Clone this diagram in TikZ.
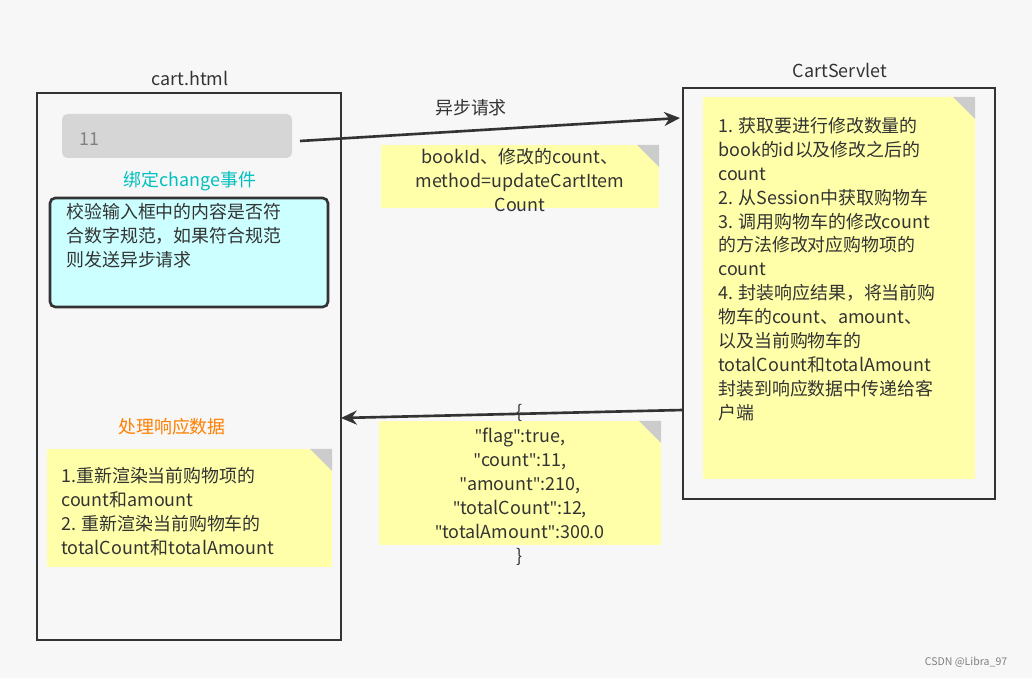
\documentclass[tikz,border=0pt]{standalone}
\usepackage{fontspec}
\setmainfont{Noto Sans CJK SC}
\newfontfamily\latn{Noto Sans}
\usetikzlibrary{arrows.meta}
\definecolor{notey}{HTML}{FFFFAA}
\definecolor{fold}{HTML}{CCCCCC}
\definecolor{dark}{HTML}{333333}
\definecolor{cyanbox}{HTML}{CCFFFF}
\definecolor{cyantext}{HTML}{00BFBF}
\newcommand{\q}{{\latn\symbol{34}}}
\tikzset{
	txt/.style={font=\fontsize{10.2}{13.6}\selectfont,text=dark,inner sep=0pt},
	note/.style={fill=notey,draw=none},
	page/.style={draw=dark,line width=1.5pt},
	flow/.style={draw=dark,line width=1.5pt,-{Stealth[length=9pt,width=8pt]}}
}
\newcommand{\dogear}[2]{% corner of a note
	\fill[fold] (#1,#2) -- (#1-22,#2) -- (#1,#2+22) -- cycle;
}
\begin{document}
\begin{tikzpicture}[x=0.02cm,y=-0.02cm]
	\fill[white!97!black] (0,0) rectangle (1032,678);
	\useasboundingbox (0,0) rectangle (1032,678);
	% left page
	\draw[page] (37,93) rectangle (341,640);
	\node[txt] (cart) at (190,78) {cart.html};
	\fill[fold!80!white,rounded corners=3pt] (62,114) rectangle (292,158);
	\node[txt,text=gray,anchor=west] (input) at (79,139) {11};
	\coordinate (inR) at (300,141);
	\node[txt,text=cyantext] (bind) at (190,181) {绑定change事件};
	\draw[fill=cyanbox,draw=dark,line width=1.5pt,rounded corners=3pt] (50,198) rectangle (328,307);
	\node[txt,anchor=north west,align=left] (check) at (66,203) {校验输入框中的内容是否符\\合数字规范，如果符合规范\\则发送异步请求};
	\node[txt,text=orange] (handle) at (172,427) {处理响应数据};
	\fill[note] (47,449) rectangle (332,567);
	\dogear{332}{449}
	\node[txt,anchor=north west,align=left] (render) at (61,467) {1.重新渲染当前购物项的\\count和amount\\2. 重新渲染当前购物车的\\totalCount和totalAmount};
	% right page
	\draw[page] (683,88) rectangle (995,499);
	\node[txt] (servlet) at (840,70) {CartServlet};
	\fill[note] (703,97) rectangle (975,479);
	\dogear{975}{97}
	\node[txt,anchor=north west,align=left] (steps) at (718,117) {1. 获取要进行修改数量的\\book的id以及修改之后的\\count\\2. 从Session中获取购物车\\3. 调用购物车的修改count\\的方法修改对应购物项的\\count\\4. 封装响应结果，将当前购\\物车的count、amount、\\以及当前购物车的\\totalCount和totalAmount\\封装到响应数据中传递给客\\户端};
	% request
	\node[txt] (async) at (471,108) {异步请求};
	\coordinate (srvIn) at (680,118);
	\draw[flow] (inR) -- (srvIn);
	\fill[note] (381,145) rectangle (659,208);
	\dogear{659}{145}
	\node[txt,align=center] (params) at (520,180) {bookId、修改的count、\\method=updateCartItem\\Count};
	% response
	\coordinate (srvOut) at (683,410);
	\coordinate (pageIn) at (341,418);
	\draw[flow] (srvOut) -- (pageIn);
	\fill[note] (379,421) rectangle (661,545);
	\dogear{661}{421}
	\node[txt,align=center] (json) at (520,485) {\{\\\q flag\q:true,\\\q count\q:11,\\\q amount\q:210,\\\q totalCount\q:12,\\\q totalAmount\q:300.0\\\}};
	\node[txt,text=gray,font=\fontsize{6}{7}\selectfont] (mark) at (966,662) {CSDN @Libra\_97};
\end{tikzpicture}
\end{document}
